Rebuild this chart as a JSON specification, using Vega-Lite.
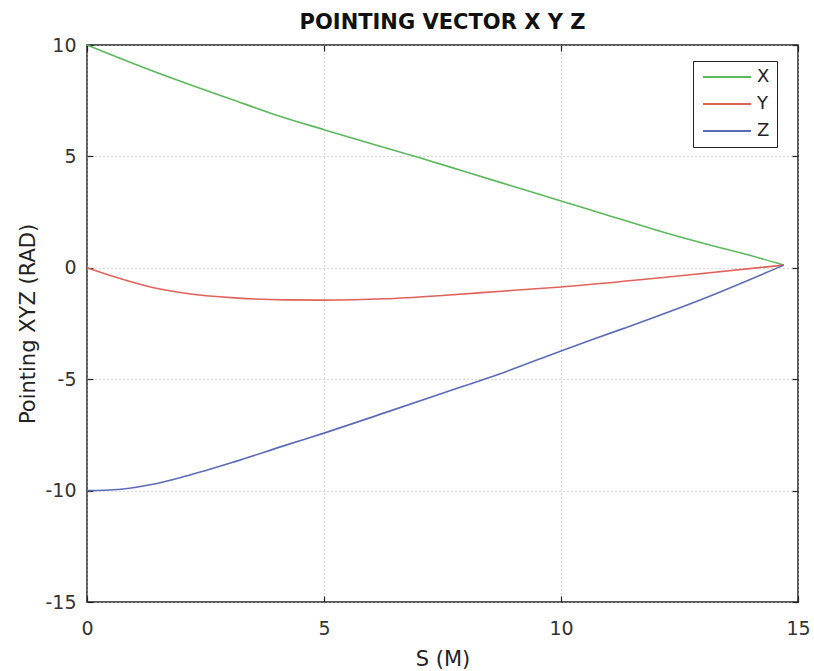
{
  "$schema": "https://vega.github.io/schema/vega-lite/v6.json",
  "autosize": {"type": "none"},
  "padding": {"left": 87, "top": 45, "right": 16, "bottom": 69},
  "width": 711,
  "height": 557,
  "background": "white",
  "title": {
    "text": "POINTING VECTOR X Y Z",
    "font": "DejaVu Sans",
    "fontSize": 21,
    "fontWeight": "bold",
    "color": "#111",
    "anchor": "middle",
    "offset": 3
  },
  "config": {
    "view": {"stroke": "#222", "strokeWidth": 1.5},
    "axis": {
      "labelFont": "DejaVu Sans",
      "labelFontSize": 19,
      "labelColor": "#333",
      "labelFlush": false,
      "titleFont": "DejaVu Sans",
      "titleFontSize": 21,
      "titleFontWeight": "normal",
      "titleColor": "#222",
      "domain": false,
      "tickColor": "#222",
      "tickWidth": 1.2,
      "gridColor": "#b5b5b5",
      "gridDash": [1, 3],
      "gridWidth": 1
    }
  },
  "data": {
    "values": [
      {"s": 0, "v": 10, "c": "X"},
      {"s": 1, "v": 9.15, "c": "X"},
      {"s": 2, "v": 8.35, "c": "X"},
      {"s": 3, "v": 7.6, "c": "X"},
      {"s": 4, "v": 6.85, "c": "X"},
      {"s": 5, "v": 6.2, "c": "X"},
      {"s": 6, "v": 5.57, "c": "X"},
      {"s": 7, "v": 4.95, "c": "X"},
      {"s": 8, "v": 4.3, "c": "X"},
      {"s": 9, "v": 3.65, "c": "X"},
      {"s": 10, "v": 3.0, "c": "X"},
      {"s": 11, "v": 2.35, "c": "X"},
      {"s": 12, "v": 1.7, "c": "X"},
      {"s": 13, "v": 1.1, "c": "X"},
      {"s": 14, "v": 0.55, "c": "X"},
      {"s": 14.7, "v": 0.12, "c": "X"},

      {"s": 0, "v": 0, "c": "Y"},
      {"s": 0.66, "v": -0.46, "c": "Y"},
      {"s": 1.36, "v": -0.87, "c": "Y"},
      {"s": 2.07, "v": -1.14, "c": "Y"},
      {"s": 3.12, "v": -1.35, "c": "Y"},
      {"s": 4.18, "v": -1.44, "c": "Y"},
      {"s": 5, "v": -1.45, "c": "Y"},
      {"s": 6.29, "v": -1.39, "c": "Y"},
      {"s": 7.5, "v": -1.24, "c": "Y"},
      {"s": 8.75, "v": -1.05, "c": "Y"},
      {"s": 10, "v": -0.86, "c": "Y"},
      {"s": 12.37, "v": -0.39, "c": "Y"},
      {"s": 14.7, "v": 0.12, "c": "Y"},

      {"s": 0, "v": -10, "c": "Z"},
      {"s": 0.66, "v": -9.95, "c": "Z"},
      {"s": 1.36, "v": -9.73, "c": "Z"},
      {"s": 2.07, "v": -9.36, "c": "Z"},
      {"s": 3.12, "v": -8.7, "c": "Z"},
      {"s": 4.18, "v": -7.97, "c": "Z"},
      {"s": 5, "v": -7.42, "c": "Z"},
      {"s": 6.29, "v": -6.5, "c": "Z"},
      {"s": 7.5, "v": -5.63, "c": "Z"},
      {"s": 8.85, "v": -4.65, "c": "Z"},
      {"s": 10, "v": -3.73, "c": "Z"},
      {"s": 11.31, "v": -2.73, "c": "Z"},
      {"s": 13.07, "v": -1.33, "c": "Z"},
      {"s": 14.7, "v": 0.12, "c": "Z"}
    ]
  },
  "layer": [
    {
      "mark": {"type": "line", "strokeWidth": 1.6, "interpolate": "monotone"},
      "encoding": {
        "x": {
          "field": "s",
          "type": "quantitative",
          "scale": {"domain": [0, 15], "nice": false},
          "axis": {
            "title": "S (M)",
            "values": [0, 5, 10, 15],
            "tickSize": -6,
            "labelPadding": 23,
            "titlePadding": 10,
            "grid": true
          }
        },
        "y": {
          "field": "v",
          "type": "quantitative",
          "scale": {"domain": [-15, 10], "nice": false},
          "axis": {
            "title": "Pointing XYZ (RAD)",
            "values": [-15, -10, -5, 0, 5, 10],
            "labelExpr": "'' + datum.value",
            "tickSize": -6,
            "labelPadding": 17,
            "titlePadding": 6,
            "grid": true
          }
        },
        "color": {
          "field": "c",
          "type": "nominal",
          "scale": {"domain": ["X", "Y", "Z"], "range": ["#5cb85c", "#e0625c", "#5b6bb8"]},
          "legend": {
            "title": null,
            "orient": "none",
            "legendX": 606,
            "legendY": 16,
            "symbolType": "M-1,0H7",
            "symbolSize": 144,
            "symbolStrokeWidth": 1.8,
            "labelFont": "DejaVu Sans",
            "labelFontSize": 18,
            "labelColor": "#222",
            "labelOffset": 39,
            "rowPadding": 9,
            "padding": 7,
            "strokeColor": "#222",
            "fillColor": "white"
          }
        }
      }
    },
    {
      "mark": {"type": "line", "opacity": 0},
      "encoding": {
        "x": {
          "field": "s",
          "type": "quantitative",
          "axis": {"orient": "top", "values": [0, 5, 10, 15], "labels": false, "title": null, "tickSize": -6, "grid": false}
        },
        "y": {
          "field": "v",
          "type": "quantitative",
          "axis": {"orient": "right", "values": [-15, -10, -5, 0, 5, 10], "labels": false, "title": null, "tickSize": -6, "grid": false}
        },
        "detail": {"field": "c"}
      }
    }
  ],
  "resolve": {"axis": {"x": "independent", "y": "independent"}}
}
